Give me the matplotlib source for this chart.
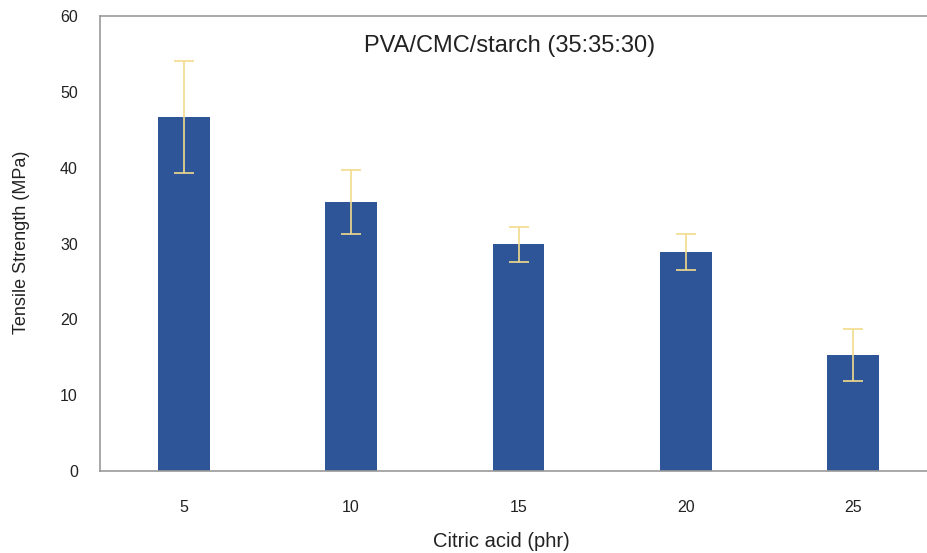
import matplotlib
matplotlib.use('Agg')
import matplotlib.pyplot as plt

plt.rcParams['font.family'] = ['Liberation Sans', 'DejaVu Sans']

citrico = ['5', '10', '15', '20', '25']
resistencia = [46.7, 35.5, 29.9, 28.9, 15.3]
error = [7.4, 4.2, 2.3, 2.4, 3.4]

W, H = 928, 553
fig = plt.figure(figsize=(W / 100, H / 100), dpi=100)
ax = fig.add_axes([100 / W, 82 / H, 837 / W, 455 / H])

x = range(len(citrico))
ax.bar(x, resistencia, width=0.31, color='#2e5597', zorder=2)
ax.errorbar(x, resistencia, yerr=error, fmt='none', ecolor='#f2dc8c',
            elinewidth=1.2, capsize=7, capthick=1.2, zorder=3)

ax.set_xlim(-0.5, 4.5)
ax.set_ylim(0, 60)
ax.set_yticks(range(0, 61, 10))
ax.set_xticks(list(x))
ax.set_xticklabels(citrico)
ax.tick_params(length=0, labelsize=11.5, colors='#222222')
ax.tick_params(axis='x', pad=21)
ax.tick_params(axis='y', pad=16)

for s in ax.spines.values():
    s.set_color('#999999')
    s.set_linewidth(1.2)
ax.spines['right'].set_visible(False)

# etiquetas de los ejes y titulo
fig.text(501 / W, 6 / H, 'Citric acid (phr)', ha='center', va='baseline',
         fontsize=14.5, color='#222222')
fig.text(22 / W, (H - 242) / H, 'Tensile Strength (MPa)', ha='center',
         va='center', rotation=90, fontsize=13, color='#222222')
fig.text(509.5 / W, (H - 52) / H, 'PVA/CMC/starch (35:35:30)', ha='center',
         va='baseline', fontsize=17, color='#222222')

fig.savefig('out.png', dpi=100)
